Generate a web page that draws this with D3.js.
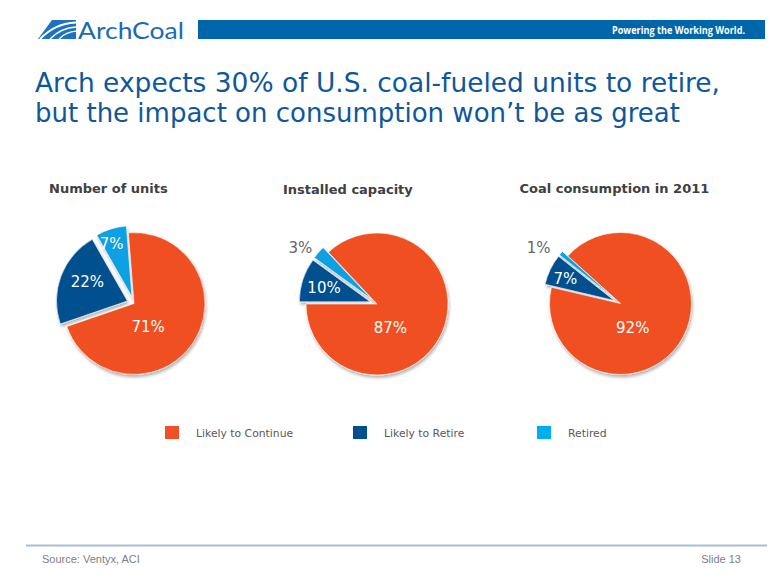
<!DOCTYPE html>
<html>
<head>
<meta charset="utf-8">
<script src="https://cdn.jsdelivr.net/npm/d3@7"></script>
<style>
  html, body { margin: 0; padding: 0; background: #fff; }
  svg { display: block; }
</style>
</head>
<body>
<script>
// ---------------- DATA ----------------
const categories = ["Likely to Continue", "Likely to Retire", "Retired"];
const chartTitles = ["Number of units", "Installed capacity", "Coal consumption in 2011"];
const numberOfUnits = [71, 22, 7];
const installedCapacity = [87, 10, 3];
const coalConsumption2011 = [92, 7, 1];
const seriesValues = [numberOfUnits, installedCapacity, coalConsumption2011];
const titleLines = [
  "Arch expects 30% of U.S. coal-fueled units to retire,",
  "but the impact on consumption won\u2019t be as great"
];
const sourceText = "Source: Ventyx, ACI";
const slideText = "Slide 13";

// ---------------- LAYOUT / STYLE ----------------
const W = 780, H = 585;
const colors = ["#F05023", "#004F8E", "#0AA0E2"];
const legendColors = ["#F05023", "#004F8E", "#00AEEF"];
const pieCenters = [[134, 303.5], [377, 304], [620.5, 303.5]];
const pieRadius = 71;
const explode = 7;
const startDeg = [-4.5, -43.2, -48];
const titleWidths = [685, 645];
// label placement (polar: angle clockwise from 12 o'clock, radius from pie centre), and colour
const labelPolar = [
  [[149, 27.4], [295, 51.4], [339.4, 63.9]],
  [[150.5, 27], [287.6, 55.6], [306.4, 95.3]],
  [[153, 26.9], [294.5, 60.7], [304.5, 99.3]]
];
const labelInside = [
  [true, true, true],
  [true, true, false],
  [true, true, false]
];

const svg = d3.select("body").append("svg").attr("width", W).attr("height", H);
const defs = svg.append("defs");
const f = defs.append("filter").attr("id", "shadow").attr("x", "-20%").attr("y", "-20%").attr("width", "140%").attr("height", "140%");
f.append("feDropShadow").attr("dx", 1).attr("dy", 2.5).attr("stdDeviation", 1.6)
  .attr("flood-color", "#000").attr("flood-opacity", 0.3);

// ---------- header ----------
const hdr = svg.append("g");
// logo icon
hdr.append("path")
  .attr("d", "M38,39 L52,20 L76,20 L76,39 Z")
  .attr("fill", "#1E73BE");
hdr.append("path")
  .attr("d", "M40,39 C50,29 60,23.5 76,22.5").attr("fill", "none").attr("stroke", "#fff").attr("stroke-width", 1.8);
hdr.append("path")
  .attr("d", "M50,39 C57,32 65,27.5 76,27").attr("fill", "none").attr("stroke", "#fff").attr("stroke-width", 1.5);
hdr.append("path")
  .attr("d", "M59,39 C64,34 70,31.5 76,31.2").attr("fill", "none").attr("stroke", "#fff").attr("stroke-width", 1.3);
hdr.append("text")
  .attr("x", 78).attr("y", 38.5)
  .attr("font-family", "Lato, 'Open Sans', sans-serif")
  .attr("font-size", 23)
  .attr("fill", "#1B6AB5")
  .attr("textLength", 106).attr("lengthAdjust", "spacingAndGlyphs")
  .text("ArchCoal");
hdr.append("rect").attr("x", 198).attr("y", 20).attr("width", 567).attr("height", 19).attr("fill", "#0066AB");
hdr.append("text")
  .attr("x", 745).attr("y", 33.5).attr("text-anchor", "end")
  .attr("font-family", "'Open Sans', 'Liberation Sans', sans-serif")
  .attr("font-size", 10.5).attr("font-weight", "bold")
  .attr("fill", "#fff")
  .attr("textLength", 133).attr("lengthAdjust", "spacingAndGlyphs")
  .text("Powering the Working World.");

// ---------- title ----------
svg.append("g").selectAll("text").data(titleLines).join("text")
  .attr("x", 35)
  .attr("y", (d, i) => 91.5 + i * 30.5)
  .attr("font-family", "'DejaVu Sans', Verdana, sans-serif")
  .attr("font-size", 26.3)
  .attr("fill", "#0E579C")
  .attr("textLength", (d, i) => titleWidths[i]).attr("lengthAdjust", "spacingAndGlyphs")
  .text(d => d);

// ---------- pies ----------
const arc = d3.arc().innerRadius(0).outerRadius(pieRadius);
const rad = d => d * Math.PI / 180;

seriesValues.forEach((vals, ci) => {
  const [cx, cy] = pieCenters[ci];
  const g = svg.append("g").attr("transform", `translate(${cx},${cy})`);

  g.append("text")
    .attr("x", [ -85, -94, -101 ][ci]).attr("y", -110.5)
    .attr("font-family", "'DejaVu Sans', Verdana, sans-serif")
    .attr("font-size", 13).attr("font-weight", "bold")
    .attr("fill", "#404040")
    .text(chartTitles[ci]);

  const s0 = rad(startDeg[ci]);
  const pie = d3.pie().sort(null).value(d => d).startAngle(s0).endAngle(s0 + 2 * Math.PI);
  const arcs = pie(vals);

  const sg = g.append("g").attr("filter", "url(#shadow)");
  sg.selectAll("path").data(arcs).join("path")
    .attr("d", arc)
    .attr("fill", (d, i) => colors[i])
    .attr("stroke", "#fff").attr("stroke-width", 0.6)
    .attr("transform", (d, i) => {
      if (i === 0) return null;
      const m = (d.startAngle + d.endAngle) / 2;
      return `translate(${explode * Math.sin(m)},${-explode * Math.cos(m)})`;
    });

  g.selectAll("text.lbl").data(arcs).join("text")
    .attr("class", "lbl")
    .attr("x", (d, i) => labelPolar[ci][i][1] * Math.sin(rad(labelPolar[ci][i][0])))
    .attr("y", (d, i) => -labelPolar[ci][i][1] * Math.cos(rad(labelPolar[ci][i][0])))
    .attr("dy", "0.36em")
    .attr("text-anchor", "middle")
    .attr("font-family", "'DejaVu Sans', Verdana, sans-serif")
    .attr("font-size", 15)
    .attr("fill", (d, i) => labelInside[ci][i] ? "#fff" : "#666")
    .text(d => d.data + "%");
});

// ---------- legend ----------
const legendX = [165, 353, 537];
const lg = svg.append("g").selectAll("g").data(categories).join("g")
  .attr("transform", (d, i) => `translate(${legendX[i]},426)`);
lg.append("rect").attr("width", 14).attr("height", 13).attr("fill", (d, i) => legendColors[i]);
lg.append("text")
  .attr("x", 31).attr("y", 11)
  .attr("font-family", "'DejaVu Sans', Verdana, sans-serif")
  .attr("font-size", 10.8)
  .attr("fill", "#595959")
  .text(d => d);

// ---------- footer ----------
svg.append("line").attr("x1", 26).attr("x2", 767).attr("y1", 545.5).attr("y2", 545.5)
  .attr("stroke", "#A7C0D7").attr("stroke-width", 2);
svg.append("text").attr("x", 42).attr("y", 562.5)
  .attr("font-family", "'Liberation Sans', Arial, sans-serif").attr("font-size", 11)
  .attr("fill", "#808080").text(sourceText);
svg.append("text").attr("x", 741).attr("y", 563).attr("text-anchor", "end")
  .attr("font-family", "'Liberation Sans', Arial, sans-serif").attr("font-size", 11)
  .attr("fill", "#808080").text(slideText);
</script>
</body>
</html>
